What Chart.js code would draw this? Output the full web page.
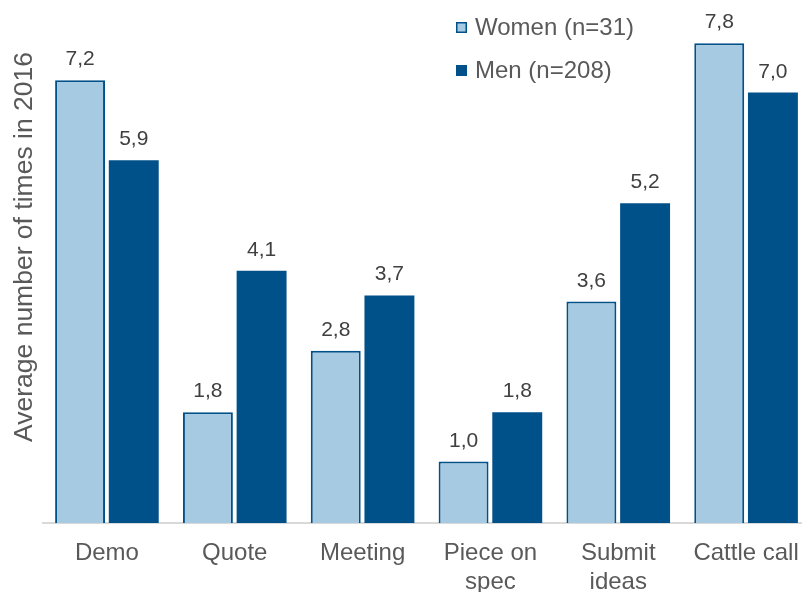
<!DOCTYPE html>
<html>
<head>
<meta charset="utf-8">
<script src="https://cdn.jsdelivr.net/npm/chart.js@4/dist/chart.umd.min.js"></script>
<style>
  html, body { margin: 0; padding: 0; background: #fff; overflow: hidden; }
  #wrap { width: 810px; height: 592px; position: relative; }
</style>
</head>
<body>
<div id="wrap"><canvas id="c" width="810" height="592"></canvas></div>
<script>
const categories = [["Demo"], ["Quote"], ["Meeting"], ["Piece on", "spec"], ["Submit", "ideas"], ["Cattle call"]];
const women = [7.2, 1.8, 2.8, 1.0, 3.6, 7.8];
const men = [5.9, 4.1, 3.7, 1.8, 5.2, 7.0];
const seriesNames = ["Women (n=31)", "Men (n=208)"];
const yTitle = "Average number of times in 2016";

const FONT = "'Liberation Sans', Arial, sans-serif";
const GREY = "#595959";
const LIGHT = "#A6CAE2";
const DARK = "#00508A";

// value labels above each bar, comma decimal
const valueLabels = {
  id: "valueLabels",
  afterDatasetsDraw(chart) {
    const ctx = chart.ctx;
    ctx.save();
    ctx.font = "21px " + FONT;
    ctx.fillStyle = "#404040";
    ctx.textAlign = "center";
    ctx.textBaseline = "alphabetic";
    chart.data.datasets.forEach((ds, i) => {
      chart.getDatasetMeta(i).data.forEach((bar, j) => {
        const txt = ds.data[j].toFixed(1).replace(".", ",");
        ctx.fillText(txt, bar.x, bar.y - 15);
      });
    });
    ctx.restore();
  }
};

// legend in the top right and rotated axis title
const decorations = {
  id: "decorations",
  afterDraw(chart) {
    const ctx = chart.ctx;
    ctx.save();
    ctx.font = "24px " + FONT;
    ctx.textBaseline = "middle";
    ctx.textAlign = "left";
    chart.data.datasets.forEach((ds, i) => {
      const y = 27 + i * 43;
      const x = 456;
      ctx.fillStyle = ds.backgroundColor;
      ctx.fillRect(x, y - 5, 11, 11);
      if (ds.borderWidth) {
        ctx.strokeStyle = ds.borderColor;
        ctx.lineWidth = 1.5;
        ctx.strokeRect(x + 0.75, y - 4.25, 9.5, 9.5);
      }
      ctx.fillStyle = GREY;
      ctx.fillText(ds.label, x + 19, y + 1);
    });
    ctx.font = "26.5px " + FONT;
    ctx.translate(25, 247);
    ctx.rotate(-Math.PI / 2);
    ctx.textAlign = "center";
    ctx.fillText(yTitle, 0, 0);
    ctx.restore();
  }
};

new Chart(document.getElementById("c"), {
  type: "bar",
  data: {
    labels: categories,
    datasets: [
      { label: seriesNames[0], data: women, backgroundColor: LIGHT, borderColor: DARK, borderWidth: 2 },
      { label: seriesNames[1], data: men, backgroundColor: DARK, borderColor: DARK, borderWidth: 0 }
    ]
  },
  options: {
    responsive: false,
    animation: false,
    devicePixelRatio: 1,
    categoryPercentage: 0.84,
    barPercentage: 0.93,
    layout: { padding: { left: 43, top: 31, right: 0, bottom: 0 } },
    plugins: { legend: { display: false }, tooltip: { enabled: false } },
    scales: {
      y: { display: false, min: 0, max: 8 },
      x: {
        grid: { display: false, drawTicks: false },
        border: { display: true, color: "#D9D9D9", width: 2 },
        ticks: { color: GREY, font: { family: FONT, size: 24, lineHeight: 1.2 }, padding: 16, maxRotation: 0, autoSkip: false },
        afterFit(scale) {
          scale.height = 69;
          scale.paddingLeft = 0;
          scale.paddingRight = 0;
        }
      }
    }
  },
  plugins: [valueLabels, decorations]
});
</script>
</body>
</html>
